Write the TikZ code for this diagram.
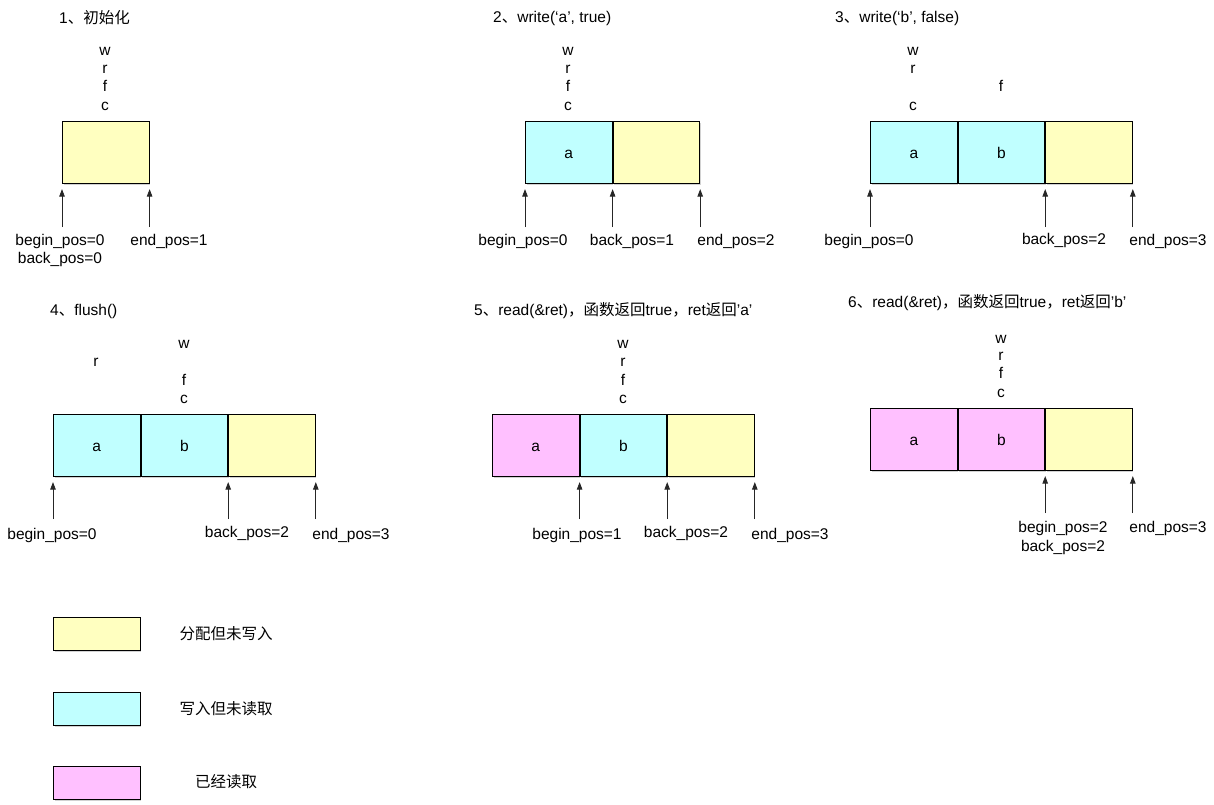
\documentclass[tikz,border=0pt]{standalone}
\usepackage{fontspec}
\setmainfont{Liberation Sans}
\newfontfamily\cjk{Noto Sans CJK SC}
\usepackage{tikz}
\usetikzlibrary{positioning,arrows.meta,shadows}

\definecolor{unwritten}{RGB}{255,255,192}
\definecolor{unread}{RGB}{192,255,255}
\definecolor{readdone}{RGB}{255,192,255}
\newcommand{\zh}[1]{{\cjk #1}}

\tikzset{
  txt/.style={font=\fontsize{15.5pt}{18pt}\selectfont, inner sep=0pt},
  title/.style={txt, anchor=west},
  cell/.style={txt, draw, line width=1.1pt, minimum width=86.5pt, minimum height=62pt,
    text height=11pt, text depth=0pt,
    drop shadow={shadow xshift=1pt, shadow yshift=-1.5pt, opacity=0.35}},
  cellY/.style={cell, fill=unwritten},
  cellB/.style={cell, fill=unread},
  cellP/.style={cell, fill=readdone},
  keybox/.style={cell, minimum height=33pt},
  ptr/.style={-{Triangle[width=5.5pt,length=7.5pt]}, line width=0.8pt, draw=black!85, shorten >=5pt},
}

\begin{document}
\begin{tikzpicture}[x=1pt, y=-1pt]
  \useasboundingbox[fill=white] (0,0) rectangle (1214,804);

  % 1
  \node[title] (t1) at (59,18) {1\zh{、初始化}};
  \node[cellY, anchor=north west] (s1a) at (62,121) {};
  \node[txt] (s1w) at (105,51) {w};
  \node[txt] (s1r) at (105,69) {r};
  \node[txt] (s1f) at (105,86) {f};
  \node[txt] (s1c) at (105,106) {c};
  \coordinate[below=43pt of s1a.south west] (s1p0);
  \coordinate[below=43pt of s1a.south east] (s1p1);
  \draw[ptr] (s1p0) -- (s1a.south west);
  \draw[ptr] (s1p1) -- (s1a.south east);
  \node[txt] (s1l0) at (60,241) {begin\_pos=0};
  \node[txt] (s1l1) at (60,259) {back\_pos=0};
  \node[txt] (s1l2) at (169,241) {end\_pos=1};

  % 2
  \node[title] (t2) at (493,18) {2\zh{、}write(‘a’, true)};
  \node[cellB, anchor=north west] (s2a) at (525,121) {a};
  \node[cellY, right=0pt of s2a] (s2b) {};
  \node[txt] (s2w) at (568,51) {w};
  \node[txt] (s2r) at (568,69) {r};
  \node[txt] (s2f) at (568,86) {f};
  \node[txt] (s2c) at (568,106) {c};
  \coordinate[below=43pt of s2a.south west] (s2p0);
  \coordinate[below=43pt of s2a.south east] (s2p1);
  \coordinate[below=43pt of s2b.south east] (s2p2);
  \draw[ptr] (s2p0) -- (s2a.south west);
  \draw[ptr] (s2p1) -- (s2a.south east);
  \draw[ptr] (s2p2) -- (s2b.south east);
  \node[txt] (s2l0) at (523,241) {begin\_pos=0};
  \node[txt] (s2l1) at (632,241) {back\_pos=1};
  \node[txt] (s2l2) at (736,241) {end\_pos=2};

  % 3
  \node[title] (t3) at (835,18) {3\zh{、}write(‘b’, false)};
  \node[cellB, anchor=north west] (s3a) at (870,121) {a};
  \node[cellB, right=0pt of s3a] (s3b) {b};
  \node[cellY, right=0pt of s3b] (s3c) {};
  \node[txt] (s3w) at (913,51) {w};
  \node[txt] (s3r) at (913,69) {r};
  \node[txt] (s3f) at (1001,86) {f};
  \node[txt] (s3k) at (913,106) {c};
  \coordinate[below=43pt of s3a.south west] (s3p0);
  \coordinate[below=43pt of s3b.south east] (s3p1);
  \coordinate[below=43pt of s3c.south east] (s3p2);
  \draw[ptr] (s3p0) -- (s3a.south west);
  \draw[ptr] (s3p1) -- (s3b.south east);
  \draw[ptr] (s3p2) -- (s3c.south east);
  \node[txt] (s3l0) at (869,241) {begin\_pos=0};
  \node[txt] (s3l1) at (1064,240) {back\_pos=2};
  \node[txt] (s3l2) at (1168,241) {end\_pos=3};

  % 4
  \node[title] (t4) at (50,311) {4\zh{、}flush()};
  \node[cellB, anchor=north west] (s4a) at (53,414) {a};
  \node[cellB, right=0pt of s4a] (s4b) {b};
  \node[cellY, right=0pt of s4b] (s4c) {};
  \node[txt] (s4r) at (96,362) {r};
  \node[txt] (s4w) at (184,344) {w};
  \node[txt] (s4f) at (184,380) {f};
  \node[txt] (s4k) at (184,399) {c};
  \coordinate[below=42pt of s4a.south west] (s4p0);
  \coordinate[below=42pt of s4b.south east] (s4p1);
  \coordinate[below=42pt of s4c.south east] (s4p2);
  \draw[ptr] (s4p0) -- (s4a.south west);
  \draw[ptr] (s4p1) -- (s4b.south east);
  \draw[ptr] (s4p2) -- (s4c.south east);
  \node[txt] (s4l0) at (52,535) {begin\_pos=0};
  \node[txt] (s4l1) at (247,533) {back\_pos=2};
  \node[txt] (s4l2) at (351,535) {end\_pos=3};

  % 5
  \node[title] (t5) at (474,311) {5\zh{、}read(\&ret)\zh{，函数返回}true\zh{，}ret\zh{返回}’a’};
  \node[cellP, anchor=north west] (s5a) at (492,414) {a};
  \node[cellB, right=0pt of s5a] (s5b) {b};
  \node[cellY, right=0pt of s5b] (s5c) {};
  \node[txt] (s5w) at (623,344) {w};
  \node[txt] (s5r) at (623,362) {r};
  \node[txt] (s5f) at (623,380) {f};
  \node[txt] (s5k) at (623,399) {c};
  \coordinate[below=42pt of s5a.south east] (s5p0);
  \coordinate[below=42pt of s5b.south east] (s5p1);
  \coordinate[below=42pt of s5c.south east] (s5p2);
  \draw[ptr] (s5p0) -- (s5a.south east);
  \draw[ptr] (s5p1) -- (s5b.south east);
  \draw[ptr] (s5p2) -- (s5c.south east);
  \node[txt] (s5l0) at (577,535) {begin\_pos=1};
  \node[txt] (s5l1) at (686,533) {back\_pos=2};
  \node[txt] (s5l2) at (790,535) {end\_pos=3};

  % 6
  \node[title] (t6) at (848,303) {6\zh{、}read(\&ret)\zh{，函数返回}true\zh{，}ret\zh{返回}’b’};
  \node[cellP, anchor=north west] (s6a) at (870,408) {a};
  \node[cellP, right=0pt of s6a] (s6b) {b};
  \node[cellY, right=0pt of s6b] (s6c) {};
  \node[txt] (s6w) at (1001,339) {w};
  \node[txt] (s6r) at (1001,356) {r};
  \node[txt] (s6f) at (1001,373) {f};
  \node[txt] (s6k) at (1001,393) {c};
  \coordinate[below=42pt of s6b.south east] (s6p0);
  \coordinate[below=42pt of s6c.south east] (s6p1);
  \draw[ptr] (s6p0) -- (s6b.south east);
  \draw[ptr] (s6p1) -- (s6c.south east);
  \node[txt] (s6l0) at (1063,528) {begin\_pos=2};
  \node[txt] (s6l1) at (1063,547) {back\_pos=2};
  \node[txt] (s6l2) at (1168,528) {end\_pos=3};

  % legend
  \node[keybox, fill=unwritten, anchor=north west] (k1) at (53,617) {};
  \node[txt] (k1t) at (226,634) {\zh{分配但未写入}};
  \node[keybox, fill=unread, anchor=north west] (k2) at (53,692) {};
  \node[txt] (k2t) at (226,709) {\zh{写入但未读取}};
  \node[keybox, fill=readdone, anchor=north west] (k3) at (53,766) {};
  \node[txt] (k3t) at (226,782) {\zh{已经读取}};
\end{tikzpicture}
\end{document}
